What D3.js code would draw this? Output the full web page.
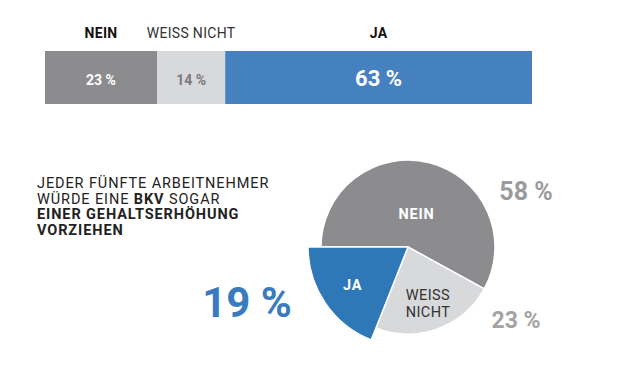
<html>
<head>
<meta charset="utf-8">
<title>BKV</title>
<style>
  body { margin: 0; background: #fff; }
  text { font-family: Roboto, "Noto Sans", sans-serif; }
</style>
</head>
<body>
<svg id="container" width="621" height="383"></svg>
<script src="https://d3js.org/d3.v7.min.js"></script>
<script>
// stacked bar (top)
let barCats = ["NEIN", "WEISS NICHT", "JA"]
let barVals = [23, 14, 63]
// pie (bottom)
let pieCats = ["NEIN", "WEISS NICHT", "JA"]
let pieVals = [58, 23, 19]

let colors = { "NEIN": "#8c8c8e", "WEISS NICHT": "#d8d9db", "JA": "#4580bf" }
let pieColors = { "NEIN": "#8c8c8e", "WEISS NICHT": "#d8d9db", "JA": "#2f78b8" }

let svg = d3.select("#container")

// ---- bar ----
let x = d3.scaleLinear().domain([0, d3.sum(barVals)]).range([45, 532])
let starts = d3.cumsum([0].concat(barVals.slice(0, -1)))
let bars = barCats.map((c, i) => ({ cat: c, val: barVals[i], x0: starts[i], x1: starts[i] + barVals[i] }))

svg.selectAll("rect.seg")
   .data(bars)
   .enter()
   .append("rect")
   .attr("class", "seg")
   .attr("x", d => x(d.x0))
   .attr("y", 51)
   .attr("width", d => x(d.x1) - x(d.x0))
   .attr("height", 53)
   .attr("fill", d => colors[d.cat])

svg.selectAll("text.barcat")
   .data(bars)
   .enter()
   .append("text")
   .attr("x", d => (x(d.x0) + x(d.x1)) / 2)
   .attr("y", 38)
   .attr("text-anchor", "middle")
   .attr("font-size", 14)
   .attr("letter-spacing", 0.3)
   .attr("font-weight", d => d.cat == "WEISS NICHT" ? 400 : 700)
   .attr("fill", d => d.cat == "WEISS NICHT" ? "#333" : "#111")
   .text(d => d.cat)

svg.selectAll("text.barval")
   .data(bars)
   .enter()
   .append("text")
   .attr("x", d => (x(d.x0) + x(d.x1)) / 2)
   .attr("y", d => d.cat == "JA" ? 86 : 85)
   .attr("text-anchor", "middle")
   .attr("font-size", d => d.cat == "JA" ? 22 : 14)
   .attr("font-weight", 700)
   .attr("fill", d => d.cat == "WEISS NICHT" ? "#7a7a7c" : "#fff")
   .text(d => d.val + " %")

// ---- text block ----
let lines = [
  [["JEDER FÜNFTE ARBEITNEHMER", 400]],
  [["WÜRDE EINE ", 400], ["BKV", 700], [" SOGAR", 400]],
  [["EINER GEHALTSERHÖHUNG", 700]],
  [["VORZIEHEN", 700]]
]
lines.forEach((ln, i) => {
  let t = svg.append("text")
     .attr("x", 37)
     .attr("y", 188 + i * 15.7)
     .attr("font-size", 14.5)
     .attr("letter-spacing", 0.9)
     .attr("fill", "#222")
  ln.forEach(p => t.append("tspan").attr("font-weight", p[1]).text(p[0]))
})

// ---- pie ----
let cx = 408, cy = 247, r = 87
let pie = d3.pie().sort(null).startAngle(-Math.PI / 2).endAngle(3 * Math.PI / 2)
let arcs = pie(pieVals).map((a, i) => Object.assign(a, { cat: pieCats[i] }))
let arc = d3.arc().innerRadius(0).outerRadius(d => d.cat == "JA" ? 100 : r)

let g = svg.append("g").attr("transform", `translate(${cx},${cy})`)
g.selectAll("path")
 .data(arcs)
 .enter()
 .append("path")
 .attr("d", arc)
 .attr("fill", d => pieColors[d.cat])
 .attr("stroke", "#fff")
 .attr("stroke-width", 1.5)

// labels inside slices (centroid sits at half the outer radius)
let labelR = { "NEIN": 68, "WEISS NICHT": 118, "JA": 134 }
let labelArc = d3.arc().innerRadius(0).outerRadius(d => labelR[d.cat])
arcs.forEach(d => {
  let c = labelArc.centroid(d)
  let words = d.cat.split(" ")
  words.forEach((w, i) => {
    g.append("text")
     .attr("x", c[0])
     .attr("y", c[1] + (words.length > 1 ? -3 + i * 17 : 5))
     .attr("text-anchor", "middle")
     .attr("font-size", 14.5)
     .attr("letter-spacing", d.cat == "WEISS NICHT" ? 0.4 : 0.8)
     .attr("font-weight", d.cat == "WEISS NICHT" ? 400 : 700)
     .attr("fill", d.cat == "WEISS NICHT" ? "#333" : "#fff")
     .text(w)
  })
})

// value labels outside
let outer = [
  { cat: "NEIN", x: 526, y: 200, size: 25, fill: "#9a9a9c" },
  { cat: "WEISS NICHT", x: 516, y: 328, size: 23, fill: "#a3a3a5" },
  { cat: "JA", x: 247, y: 317, size: 42, fill: "#3a7bbf" }
]
svg.selectAll("text.pval")
   .data(outer)
   .enter()
   .append("text")
   .attr("x", d => d.x)
   .attr("y", d => d.y)
   .attr("text-anchor", "middle")
   .attr("font-size", d => d.size)
   .attr("font-weight", 700)
   .attr("fill", d => d.fill)
   .text(d => pieVals[pieCats.indexOf(d.cat)] + " %")
</script>
</body>
</html>
